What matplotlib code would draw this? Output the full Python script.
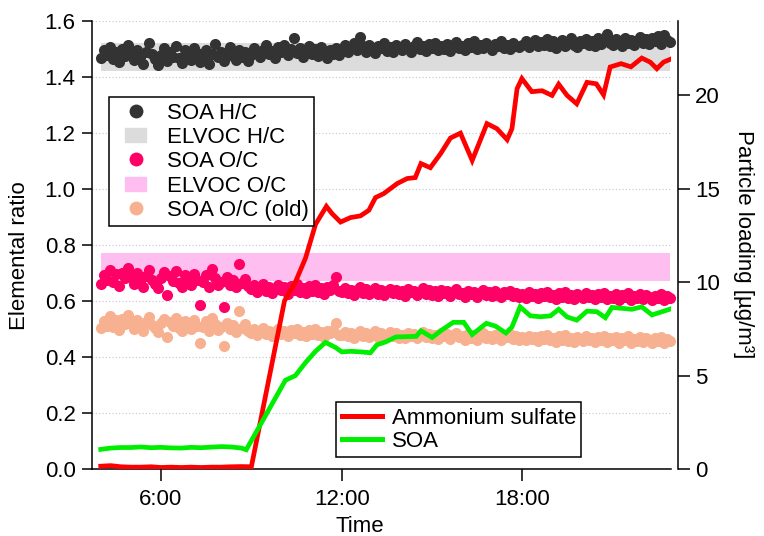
import matplotlib
matplotlib.use("Agg")
import matplotlib.pyplot as plt
from matplotlib.lines import Line2D
from matplotlib.patches import Patch, Rectangle
from matplotlib.legend_handler import HandlerPatch
from matplotlib.ticker import FormatStrFormatter

plt.rcParams['font.family'] = ['Liberation Sans', 'DejaVu Sans']
plt.rcParams['font.size'] = 16

# time of day in hours, elemental ratio samples every 6 min
time_ratio = [
    4.0, 4.1, 4.2, 4.3, 4.4, 4.5, 4.6, 4.7, 4.8, 4.9,
    5.0, 5.1, 5.2, 5.3, 5.4, 5.5, 5.6, 5.7, 5.8, 5.9,
    6.0, 6.1, 6.2, 6.3, 6.4, 6.5, 6.6, 6.7, 6.8, 6.9,
    7.0, 7.1, 7.2, 7.3, 7.4, 7.5, 7.6, 7.7, 7.8, 7.9,
    8.0, 8.1, 8.2, 8.3, 8.4, 8.5, 8.6, 8.7, 8.8, 8.9,
    9.0, 9.1, 9.2, 9.3, 9.4, 9.5, 9.6, 9.7, 9.8, 9.9,
    10.0, 10.1, 10.2, 10.3, 10.4, 10.5, 10.6, 10.7, 10.8, 10.9,
    11.0, 11.1, 11.2, 11.3, 11.4, 11.5, 11.6, 11.7, 11.8, 11.9,
    12.0, 12.1, 12.2, 12.3, 12.4, 12.5, 12.6, 12.7, 12.8, 12.9,
    13.0, 13.1, 13.2, 13.3, 13.4, 13.5, 13.6, 13.7, 13.8, 13.9,
    14.0, 14.1, 14.2, 14.3, 14.4, 14.5, 14.6, 14.7, 14.8, 14.9,
    15.0, 15.1, 15.2, 15.3, 15.4, 15.5, 15.6, 15.7, 15.8, 15.9,
    16.0, 16.1, 16.2, 16.3, 16.4, 16.5, 16.6, 16.7, 16.8, 16.9,
    17.0, 17.1, 17.2, 17.3, 17.4, 17.5, 17.6, 17.7, 17.8, 17.9,
    18.0, 18.1, 18.2, 18.3, 18.4, 18.5, 18.6, 18.7, 18.8, 18.9,
    19.0, 19.1, 19.2, 19.3, 19.4, 19.5, 19.6, 19.7, 19.8, 19.9,
    20.0, 20.1, 20.2, 20.3, 20.4, 20.5, 20.6, 20.7, 20.8, 20.9,
    21.0, 21.1, 21.2, 21.3, 21.4, 21.5, 21.6, 21.7, 21.8, 21.9,
    22.0, 22.1, 22.2, 22.3, 22.4, 22.5, 22.6, 22.7, 22.8, 22.9,
]

soa_hc = [
    1.468, 1.495, 1.478, 1.506, 1.462, 1.488, 1.452, 1.499, 1.475, 1.512,
    1.484, 1.458, 1.496, 1.470, 1.447, 1.489, 1.521, 1.480, 1.463, 1.442,
    1.476, 1.501, 1.455, 1.487, 1.470, 1.509, 1.466, 1.449, 1.494, 1.478,
    1.460, 1.503, 1.485, 1.451, 1.472, 1.496, 1.444, 1.481, 1.518, 1.469,
    1.490, 1.457, 1.475, 1.505, 1.483, 1.461, 1.497, 1.472, 1.488, 1.456,
    1.478, 1.501, 1.486, 1.470, 1.497, 1.512, 1.481, 1.493, 1.468, 1.506,
    1.488, 1.515, 1.476, 1.498, 1.537, 1.484, 1.503, 1.472, 1.495, 1.510,
    1.482, 1.499, 1.474, 1.507, 1.489, 1.468, 1.496, 1.480, 1.504, 1.477,
    1.497, 1.512, 1.488, 1.505, 1.519, 1.494, 1.541, 1.508, 1.490, 1.514,
    1.499, 1.486, 1.510, 1.502, 1.520, 1.493, 1.507, 1.489, 1.515, 1.501,
    1.496, 1.518, 1.504, 1.490, 1.511, 1.524, 1.498, 1.509, 1.493, 1.516,
    1.503, 1.521, 1.495, 1.510, 1.500, 1.517, 1.492, 1.513, 1.525, 1.502,
    1.511, 1.496, 1.519, 1.506, 1.526, 1.499, 1.514, 1.503, 1.521, 1.508,
    1.497, 1.518, 1.509, 1.527, 1.504, 1.515, 1.500, 1.522, 1.511, 1.506,
    1.512, 1.527, 1.505, 1.519, 1.532, 1.508, 1.523, 1.514, 1.536, 1.511,
    1.526, 1.503, 1.518, 1.531, 1.510, 1.524, 1.537, 1.515, 1.507, 1.529,
    1.520, 1.534, 1.512, 1.526, 1.509, 1.538, 1.517, 1.531, 1.553, 1.522,
    1.514, 1.535, 1.525, 1.511, 1.540, 1.519, 1.532, 1.513, 1.527, 1.542,
    1.521, 1.534, 1.516, 1.539, 1.526, 1.545, 1.518, 1.548, 1.530, 1.524,
]

soa_oc = [
    0.662, 0.691, 0.675, 0.712, 0.668, 0.695, 0.653, 0.701, 0.680, 0.716,
    0.687, 0.659, 0.698, 0.672, 0.650, 0.690, 0.709, 0.676, 0.661, 0.647,
    0.683, 0.702, 0.621, 0.688, 0.671, 0.706, 0.664, 0.651, 0.693, 0.678,
    0.658, 0.697, 0.674, 0.586, 0.666, 0.692, 0.650, 0.713, 0.681, 0.655,
    0.669, 0.577, 0.684, 0.657, 0.675, 0.648, 0.731, 0.663, 0.679, 0.652,
    0.641, 0.655, 0.632, 0.648, 0.662, 0.636, 0.651, 0.627, 0.644, 0.658,
    0.638, 0.649, 0.626, 0.653, 0.640, 0.660, 0.633, 0.646, 0.629, 0.652,
    0.637, 0.657, 0.631, 0.645, 0.624, 0.650, 0.639, 0.655, 0.687, 0.634,
    0.632, 0.645, 0.627, 0.640, 0.622, 0.638, 0.648, 0.629, 0.641, 0.624,
    0.636, 0.647, 0.626, 0.639, 0.621, 0.634, 0.644, 0.628, 0.640, 0.623,
    0.635, 0.619, 0.642, 0.630, 0.637, 0.620, 0.633, 0.645, 0.625, 0.638,
    0.622, 0.634, 0.618, 0.640, 0.627, 0.636, 0.616, 0.631, 0.642, 0.624,
    0.629, 0.615, 0.637, 0.623, 0.633, 0.614, 0.628, 0.639, 0.620, 0.630,
    0.617, 0.634, 0.622, 0.613, 0.631, 0.625, 0.637, 0.619, 0.628, 0.614,
    0.626, 0.612, 0.630, 0.618, 0.624, 0.609, 0.628, 0.616, 0.632, 0.614,
    0.621, 0.607, 0.627, 0.615, 0.631, 0.611, 0.622, 0.606, 0.625, 0.617,
    0.610, 0.628, 0.613, 0.621, 0.605, 0.624, 0.615, 0.629, 0.608, 0.619,
    0.612, 0.626, 0.604, 0.620, 0.614, 0.627, 0.603, 0.618, 0.611, 0.624,
    0.606, 0.621, 0.613, 0.602, 0.619, 0.609, 0.625, 0.604, 0.616, 0.610,
]

soa_oc_old = [
    0.503, 0.527, 0.512, 0.545, 0.507, 0.530, 0.495, 0.535, 0.518, 0.548,
    0.522, 0.499, 0.533, 0.510, 0.493, 0.526, 0.541, 0.514, 0.502, 0.490,
    0.520, 0.536, 0.472, 0.524, 0.509, 0.539, 0.504, 0.492, 0.528, 0.515,
    0.498, 0.531, 0.511, 0.449, 0.506, 0.527, 0.494, 0.538, 0.517, 0.496,
    0.508, 0.440, 0.521, 0.499, 0.513, 0.490, 0.564, 0.503, 0.516, 0.494,
    0.486, 0.498, 0.479, 0.492, 0.503, 0.481, 0.494, 0.474, 0.488, 0.500,
    0.483, 0.492, 0.473, 0.496, 0.485, 0.501, 0.478, 0.490, 0.475, 0.495,
    0.482, 0.499, 0.477, 0.489, 0.471, 0.493, 0.484, 0.497, 0.522, 0.479,
    0.478, 0.489, 0.473, 0.485, 0.469, 0.483, 0.492, 0.475, 0.486, 0.470,
    0.481, 0.491, 0.472, 0.484, 0.468, 0.479, 0.488, 0.474, 0.485, 0.469,
    0.480, 0.466, 0.487, 0.476, 0.482, 0.467, 0.478, 0.489, 0.471, 0.483,
    0.468, 0.479, 0.465, 0.485, 0.473, 0.481, 0.463, 0.477, 0.487, 0.470,
    0.475, 0.462, 0.482, 0.469, 0.478, 0.461, 0.474, 0.484, 0.466, 0.476,
    0.464, 0.479, 0.468, 0.460, 0.477, 0.471, 0.482, 0.465, 0.473, 0.461,
    0.472, 0.459, 0.476, 0.465, 0.470, 0.457, 0.474, 0.463, 0.478, 0.461,
    0.468, 0.455, 0.473, 0.462, 0.477, 0.458, 0.469, 0.453, 0.471, 0.464,
    0.457, 0.474, 0.460, 0.468, 0.452, 0.470, 0.462, 0.475, 0.455, 0.466,
    0.459, 0.472, 0.451, 0.467, 0.461, 0.473, 0.450, 0.465, 0.458, 0.470,
    0.453, 0.468, 0.460, 0.449, 0.466, 0.456, 0.471, 0.451, 0.463, 0.458,
]

# ELVOC ranges (low, high)
elvoc_hc = (1.42, 1.52)
elvoc_oc = (0.67, 0.77)

# particle loading, ug/m3
time_as = [4.0, 4.33, 4.67, 5.0, 5.33, 5.67, 6.0, 6.33, 6.67, 7.0, 7.33, 7.67, 8.0, 8.33,
           8.67, 9.0, 10.1, 10.46, 10.8, 11.13, 11.49, 11.68, 11.96, 12.29, 12.62, 12.9,
           13.12, 13.39, 13.84, 14.17, 14.44, 14.63, 14.94, 15.28, 15.61, 15.94, 16.33,
           16.82, 17.15, 17.49, 17.65, 17.82, 17.98, 18.31, 18.65, 18.98, 19.2, 19.48,
           19.8, 20.14, 20.45, 20.69, 20.91, 21.27, 21.6, 21.96, 22.24, 22.46, 22.68, 22.9]
ammonium_sulfate = [0.15, 0.18, 0.12, 0.1, 0.1, 0.12, 0.08, 0.1, 0.08, 0.1, 0.08, 0.1, 0.1, 0.12,
                    0.13, 0.12, 9.0, 10.0, 11.3, 13.1, 14.06, 13.67, 13.22, 13.46, 13.55, 13.85,
                    14.53, 14.74, 15.28, 15.55, 15.6, 16.35, 16.13, 16.88, 17.72, 17.98, 16.52,
                    18.49, 18.22, 17.63, 18.22, 20.36, 20.9, 20.2, 20.25, 20.0, 20.6, 20.0,
                    19.55, 20.7, 20.62, 20.03, 21.52, 21.7, 21.53, 22.0, 21.78, 21.43, 21.78, 21.93]

time_soa = [4.0, 4.33, 4.67, 5.0, 5.33, 5.67, 6.0, 6.33, 6.67, 7.0, 7.33, 7.67, 8.0, 8.33,
            8.67, 8.83, 10.13, 10.46, 10.8, 11.13, 11.46, 11.8, 12.0, 12.3, 12.63, 12.95,
            13.17, 13.45, 13.8, 14.47, 14.63, 15.0, 15.33, 15.7, 16.05, 16.33, 16.8, 17.1,
            17.45, 17.65, 17.92, 18.26, 18.6, 18.93, 19.2, 19.48, 19.8, 20.14, 20.47, 20.75,
            20.97, 21.3, 21.63, 21.96, 22.3, 22.63, 22.9]
soa_loading = [1.05, 1.12, 1.15, 1.15, 1.18, 1.14, 1.16, 1.13, 1.12, 1.16, 1.14, 1.17, 1.2, 1.18,
               1.12, 1.03, 4.75, 5.0, 5.7, 6.3, 6.78, 6.5, 6.27, 6.3, 6.27, 6.22,
               6.65, 6.8, 7.07, 7.1, 7.4, 7.04, 7.45, 7.85, 7.85, 7.2, 7.8, 7.65,
               7.28, 7.6, 8.68, 8.2, 8.15, 8.2, 8.55, 8.14, 7.97, 8.45, 8.42, 8.1,
               8.65, 8.6, 8.55, 8.68, 8.25, 8.42, 8.56]

hour_ticks = [6, 12, 18]
hour_labels = ["6:00", "12:00", "18:00"]

c_hc = "#333333"
c_oc = "#ff0066"
c_old = "#f8b190"
c_band_hc = "#dcdcdc"
c_band_oc = "#ffbef0"

fig = plt.figure(figsize=(7.64, 5.36), dpi=100)
ax = fig.add_axes([0.1208, 0.125, 0.7575, 0.8364])
ax2 = ax.twinx()

# ELVOC bands
ax.fill_between([time_ratio[0], time_ratio[-1]], elvoc_hc[0], elvoc_hc[1], color=c_band_hc, lw=0, zorder=1)
ax.fill_between([time_ratio[0], time_ratio[-1]], elvoc_oc[0], elvoc_oc[1], color=c_band_oc, lw=0, zorder=1)

ms = 8.0
ax.plot(time_ratio, soa_hc, "o", color=c_hc, ms=ms, mew=0, clip_on=False, zorder=3)
ax.plot(time_ratio, soa_oc, "o", color=c_oc, ms=ms, mew=0, clip_on=False, zorder=3)
ax.plot(time_ratio, soa_oc_old, "o", color=c_old, ms=ms, mew=0, clip_on=False, zorder=3)

ax2.plot(time_as, ammonium_sulfate, color="#ff0000", lw=3.4, solid_joinstyle="miter")
ax2.plot(time_soa, soa_loading, color="#00ee00", lw=3.4, solid_joinstyle="miter")

ax.set_xlim(3.72, 22.93)
ax.set_ylim(0, 1.6)
ax2.set_ylim(0, 24)
ax.set_yticks([0, 0.2, 0.4, 0.6, 0.8, 1.0, 1.2, 1.4, 1.6])
ax.yaxis.set_major_formatter(FormatStrFormatter("%.1f"))
ax2.set_yticks([0, 5, 10, 15, 20])
ax.set_xticks(hour_ticks)
ax.set_xticklabels(hour_labels)

ax.set_axisbelow(True)
ax.yaxis.grid(True, linestyle=(0, (1, 2)), color="#c4c4d4", lw=0.8)

for s in ["top", "right"]:
    ax.spines[s].set_visible(False)
for s in ["top", "left", "bottom"]:
    ax2.spines[s].set_visible(False)
ax2.spines["right"].set_position(("outward", 5))
for s in ["left", "bottom"]:
    ax.spines[s].set_linewidth(1.1)
ax2.spines["right"].set_linewidth(1.1)

ax.tick_params(axis="y", direction="out", length=7, width=1.1, pad=5)
ax.tick_params(axis="x", direction="out", length=8.5, width=1.1, pad=6)
ax2.tick_params(axis="y", direction="out", length=8.5, width=1.1, pad=4)

ax.set_ylabel("Elemental ratio", va="center")
ax.yaxis.set_label_coords(-0.125, 0.477)
ax.set_xlabel("Time", va="center")
ax.xaxis.set_label_coords(0.4626, -0.1287)
ax2.set_ylabel("Particle loading [µg/m³]", rotation=270, va="center")
ax2.yaxis.set_label_coords(1.126, 0.502)


def band_patch(legend, orig_handle, xdescent, ydescent, width, height, fontsize):
    w = 0.5 * width
    h = 0.9 * height
    return Rectangle((-xdescent + (width - w) / 2, -ydescent + (height - h) / 2), w, h)


handles1 = [
    Line2D([], [], ls="none", marker="o", ms=10, mew=0, color=c_hc),
    Patch(color=c_band_hc),
    Line2D([], [], ls="none", marker="o", ms=10, mew=0, color=c_oc),
    Patch(color=c_band_oc),
    Line2D([], [], ls="none", marker="o", ms=10, mew=0, color=c_old),
]
labels1 = ["SOA H/C", "ELVOC H/C", "SOA O/C", "ELVOC O/C", "SOA O/C (old)"]
leg1 = ax2.legend(handles1, labels1, loc="upper left", bbox_to_anchor=(109 / 764, 1 - 97 / 536),
                  bbox_transform=fig.transFigure, borderaxespad=0, fancybox=False, framealpha=1,
                  edgecolor="black", handlelength=1.9, handletextpad=0.45, labelspacing=0.15,
                  borderpad=0.25, handler_map={Patch: HandlerPatch(patch_func=band_patch)})
leg1.get_frame().set_linewidth(1.1)
ax2.add_artist(leg1)

handles2 = [Line2D([], [], color="#ff0000", lw=3.6), Line2D([], [], color="#00ee00", lw=3.6)]
leg2 = ax2.legend(handles2, ["Ammonium sulfate", "SOA"], loc="upper left",
                  bbox_to_anchor=(336 / 764, 1 - 402 / 536), bbox_transform=fig.transFigure,
                  borderaxespad=0, fancybox=False, framealpha=1, edgecolor="black",
                  handlelength=1.8, handletextpad=0.45, labelspacing=0.1, borderpad=0.25)
leg2.get_frame().set_linewidth(1.1)

fig.savefig("out.png", dpi=100)
